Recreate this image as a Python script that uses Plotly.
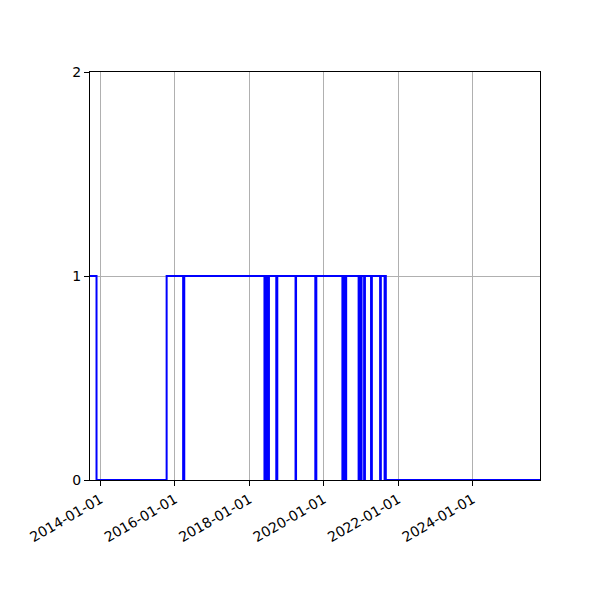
import plotly.graph_objects as go
import pandas as pd

# Dates where the state changes, and the state that holds from that date on
change_dates = [
    "2013-09-20", "2013-11-23", "2015-10-12",
    "2016-03-22", "2016-04-02",
    "2018-05-29", "2018-06-03", "2018-06-08", "2018-06-13", "2018-06-18",
    "2018-06-23", "2018-06-28", "2018-07-03", "2018-07-08", "2018-07-12",
    "2018-09-22", "2018-10-02",
    "2019-03-30", "2019-04-04",
    "2019-10-10", "2019-10-20",
    "2020-07-02", "2020-07-07", "2020-07-12", "2020-07-17", "2020-07-22",
    "2020-07-27", "2020-08-01", "2020-08-08",
    "2020-12-08", "2020-12-16",
    "2021-01-03", "2021-01-06",
    "2021-01-31", "2021-02-08",
    "2021-04-09", "2021-04-17",
    "2021-07-07", "2021-07-14",
    "2021-08-20", "2021-08-25",
    "2021-09-01", "2025-10-23",
]
states = [
    1, 0, 1,
    0, 1,
    0, 1, 0, 1, 0,
    1, 0, 1, 0, 1,
    0, 1,
    0, 1,
    0, 1,
    0, 1, 0, 1, 0,
    1, 0, 1,
    0, 1,
    0, 1,
    0, 1,
    0, 1,
    0, 1,
    0, 1,
    0, 0,
]
y_ticks = [0, 1, 2]

dates = pd.to_datetime(change_dates)

fig = go.Figure()
fig.add_trace(go.Scatter(
    x=dates,
    y=states,
    mode="lines",
    line=dict(color="#0000ff", width=2, shape="hv"),
    showlegend=False,
))

axis_style = dict(
    showline=True, linecolor="black", linewidth=1, mirror=True,
    showgrid=True, gridcolor="#b0b0b0", gridwidth=1,
    ticks="outside", ticklen=5, tickwidth=1, tickcolor="black",
    zeroline=False,
    tickfont=dict(family="DejaVu Sans", size=14, color="black"),
)

# page body adds an 8px offset, so margins are shifted to keep the
# plot box at 90..540 x 72..480
fig.update_layout(
    width=600, height=600,
    paper_bgcolor="white", plot_bgcolor="white",
    margin=dict(l=82, r=68, t=64, b=128),
    xaxis=dict(
        range=[dates[0], dates[-1]],
        tick0="2014-01-01", dtick="M24", tickformat="%Y-%m-%d",
        tickangle=-30,
        **axis_style,
    ),
    yaxis=dict(
        range=[0, 2], tickvals=y_ticks,
        **axis_style,
    ),
)

fig.write_html("out.html")
